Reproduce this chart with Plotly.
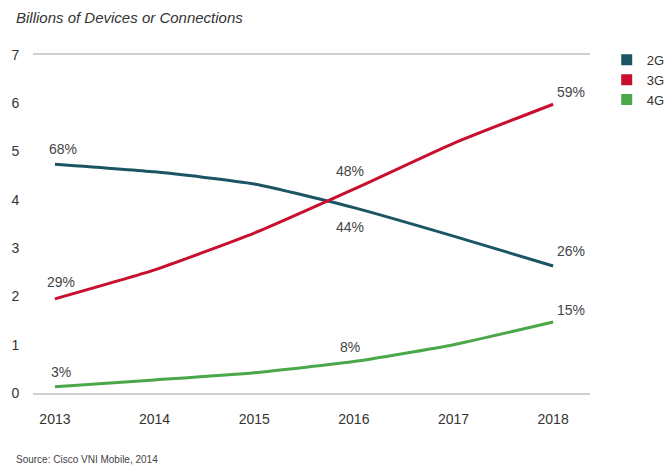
import plotly.graph_objects as go

# Mobile devices/connections by network generation (billions)
years = [2013, 2014, 2015, 2016, 2017, 2018]
series_names = ["2G", "3G", "4G"]
values_2g = [4.74, 4.58, 4.33, 3.84, 3.25, 2.63]
values_3g = [1.95, 2.55, 3.31, 4.22, 5.17, 5.98]
values_4g = [0.13, 0.27, 0.42, 0.65, 1.00, 1.47]
colors = ["#1b5563", "#c8102e", "#4aa84a"]

# Share-of-total labels: (series index, year, text, x shift px, y shift px)
share_labels = [
    (0, 2013, "68%", 8, 15),
    (1, 2013, "29%", 6, 17),
    (2, 2013, "3%", 6, 15),
    (1, 2016, "48%", -4, 18),
    (0, 2016, "44%", -4, -19),
    (2, 2016, "8%", -4, 15),
    (1, 2018, "59%", 18, 12),
    (0, 2018, "26%", 18, 15),
    (2, 2018, "15%", 18, 12),
]

all_values = [values_2g, values_3g, values_4g]

fig = go.Figure()
for name, vals, col in zip(series_names, all_values, colors):
    fig.add_trace(go.Scatter(
        x=years, y=vals, mode="lines", name=name,
        line=dict(color=col, width=3, shape="spline", smoothing=0.5),
        showlegend=False, hoverinfo="x+y+name",
    ))
    # square legend key
    fig.add_trace(go.Scatter(
        x=[None], y=[None], mode="markers", name=name,
        marker=dict(symbol="square", size=11, color=col),
        showlegend=True,
    ))

for idx, yr, txt, dx, dy in share_labels:
    fig.add_annotation(
        x=yr, y=all_values[idx][years.index(yr)], text=txt,
        showarrow=False, xshift=dx, yshift=dy,
        font=dict(size=14, color="#444444"),
    )

fig.add_annotation(
    xref="paper", yref="paper", x=-0.035, y=1.11, xanchor="left", yanchor="middle",
    text="<i>Billions of Devices or Connections</i>", showarrow=False,
    font=dict(size=15, color="#333333"),
)
fig.add_annotation(
    xref="paper", yref="paper", x=-0.035, y=-0.196, xanchor="left", yanchor="middle",
    text="Source: Cisco VNI Mobile, 2014", showarrow=False,
    font=dict(size=10, color="#444444"),
)

fig.update_layout(
    width=667, height=469,
    margin=dict(l=33, r=77, t=55, b=76, autoexpand=False),
    paper_bgcolor="white", plot_bgcolor="white",
    font=dict(family="Liberation Sans, Arial, sans-serif", color="#333333"),
    legend=dict(
        x=1.03, y=1.03, xanchor="left", yanchor="top",
        font=dict(size=13, color="#333333"),
        itemwidth=30, tracegroupgap=0, bgcolor="rgba(0,0,0,0)",
    ),
    xaxis=dict(
        range=[2012.78, 2018.37], tickvals=years, ticktext=[str(y) for y in years],
        showgrid=False, zeroline=False,
        showline=True, mirror=True, linecolor="#d0d0d0", linewidth=2,
        ticks="outside", ticklen=12, tickcolor="white",
        tickfont=dict(size=14, color="#333333"),
    ),
    yaxis=dict(
        range=[0, 7], dtick=1, showgrid=False, zeroline=False, showline=False,
        ticks="outside", ticklen=10, tickcolor="white",
        tickfont=dict(size=14, color="#333333"),
    ),
)

fig.write_html("out.html")
